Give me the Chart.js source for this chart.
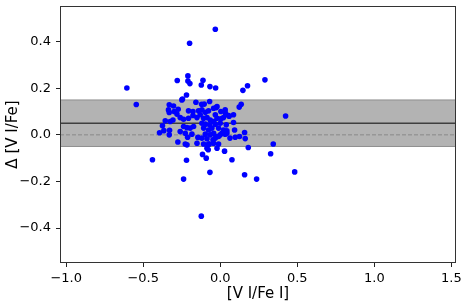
<!DOCTYPE html>
<html>
<head>
<meta charset="utf-8">
<script src="https://cdn.jsdelivr.net/npm/chart.js@4/dist/chart.umd.min.js"></script>
<style>
  html, body { margin: 0; padding: 0; background: #fff; }
</style>
</head>
<body>
<canvas id="myChart" width="464" height="303"></canvas>
<script>
// [V I/Fe I] for each star
const feI = [
  -0.032, -0.199, -0.606, -0.545, -0.279, -0.210, -0.210, -0.197, -0.112, -0.123,
  -0.067, -0.030, 0.177, 0.147, 0.290, 0.424, -0.219, -0.249, 0.136, 0.123,
  -0.440, -0.219, -0.115, -0.091, -0.078, 0.028, 0.076, -0.067, -0.238, 0.158,
  0.236, 0.327, 0.344, 0.483, -0.123, 0.182, -0.275, -0.227, -0.108, -0.071,
  -0.011, 0.158, 0.162, 0.063, 0.097, -0.394, -0.375, -0.366, -0.329,
  -0.245, -0.158, -0.331, -0.303, -0.336, -0.299, -0.206, -0.177, -0.141, -0.119,
  -0.281, -0.260, -0.307, -0.325, -0.238, -0.206, -0.177, -0.151, -0.130, -0.357,
  -0.238, -0.216, -0.195, -0.173, -0.260, -0.227, -0.184, -0.331, -0.145, -0.216,
  -0.069, -0.026, -0.043, -0.104, -0.097, -0.076, 0.004, 0.032, 0.054, 0.086,
  -0.032, -0.021, 0.004, 0.021, -0.108, -0.086, -0.065, -0.043, -0.119, -0.097,
  -0.069, -0.032, 0.000, 0.039, 0.086, 0.093, -0.108, -0.076, -0.054, -0.011,
  0.021, 0.043, -0.097, -0.065, -0.043, -0.021, 0.000, 0.032, -0.119, -0.086,
  -0.047, 0.125, -0.076, -0.043, -0.086, -0.021,
  -0.121, -0.021, 0.034, 0.058, -0.273, -0.331, -0.212, -0.151, -0.032, -0.011,
  0.011, 0.043
];
// Delta [V I/Fe]
const dVI = [
  0.453, 0.393, 0.201, 0.130, 0.233, 0.253, 0.231, 0.220, 0.234, 0.214,
  0.207, 0.201, 0.211, 0.191, 0.236, 0.081, 0.171, 0.150, 0.131, 0.119,
  -0.107, -0.109, -0.084, -0.100, -0.064, -0.070, -0.107, -0.161, -0.190, -0.171,
  -0.190, -0.081, -0.039, -0.159, -0.349, -0.054, -0.031, -0.039, -0.039, -0.039,
  -0.039, 0.010, -0.016, -0.014, -0.010, 0.009, 0.039, 0.018, 0.020,
  0.154, 0.140, 0.129, 0.124, 0.107, 0.100, 0.103, 0.100, 0.103, 0.107,
  0.089, 0.074, 0.064, 0.057, 0.067, 0.071, 0.083, 0.074, 0.086, 0.060,
  0.036, 0.031, 0.029, 0.036, 0.014, 0.007, 0.003, 0.000, -0.011, -0.043,
  0.143, 0.117, 0.114, 0.132, 0.097, 0.103, 0.100, 0.107, 0.083, 0.086,
  0.086, 0.071, 0.069, 0.074, 0.071, 0.074, 0.064, 0.057, 0.050, 0.046,
  0.043, 0.046, 0.050, 0.043, 0.053, 0.021, 0.029, 0.021, 0.029, 0.029,
  0.021, 0.017, 0.003, 0.000, 0.007, -0.007, 0.000, 0.003, -0.014, -0.017,
  -0.021, -0.007, -0.040, -0.036, -0.057, -0.057,
  0.131, 0.121, 0.093, 0.080, 0.110, 0.096, -0.010, -0.036, -0.014, -0.007,
  0.007, 0.007
];

const xTicks = [-1.0, -0.5, 0.0, 0.5, 1.0, 1.5];
const yTicks = [-0.4, -0.2, 0.0, 0.2, 0.4];
const xRange = [-1.04, 1.53];
const yRange = [-0.55, 0.553];

const bandLow = -0.05;
const bandHigh = 0.15;
const meanDiff = 0.05;
const zeroDiff = 0.0;

const ctx = document.getElementById("myChart");

function hline(y) {
  return [{ x: xRange[0], y: y }, { x: xRange[1], y: y }];
}

function fmt(v) {
  return v.toFixed(1).replace("-", "\u2212");
}

// full box round the plot, like matplotlib spines
const frame = {
  id: "frame",
  afterDatasetsDraw(chart) {
    const c = chart.ctx;
    const a = chart.chartArea;
    c.save();
    c.strokeStyle = "#333";
    c.lineWidth = 1;
    c.strokeRect(a.left + 0.5, a.top + 0.5, a.right - a.left - 1, a.bottom - a.top - 1);
    c.restore();
  },
};

const font = { family: "'DejaVu Sans'", size: 13 };
const titleFont = { family: "'DejaVu Sans'", size: 15 };

new Chart(ctx, {
  type: "scatter",
  data: {
    datasets: [
      {
        label: "stars",
        data: feI.map((x, i) => ({ x: x, y: dVI[i] })),
        backgroundColor: "#0000ff",
        borderWidth: 0,
        pointRadius: 2.8,
        order: 0,
      },
      {
        label: "mean",
        type: "line",
        data: hline(meanDiff),
        borderColor: "#3f3f3f",
        borderWidth: 1.6,
        pointRadius: 0,
        order: 1,
      },
      {
        label: "zero",
        type: "line",
        data: hline(zeroDiff),
        borderColor: "#8a8a8a",
        borderWidth: 1,
        borderDash: [4, 2],
        pointRadius: 0,
        order: 1,
      },
      {
        label: "band top",
        type: "line",
        data: hline(bandHigh),
        borderColor: "rgba(128,128,128,0.8)",
        borderWidth: 1,
        backgroundColor: "rgba(128,128,128,0.6)",
        fill: "+1",
        pointRadius: 0,
        order: 2,
      },
      {
        label: "band bottom",
        type: "line",
        data: hline(bandLow),
        borderColor: "rgba(128,128,128,0.8)",
        borderWidth: 1,
        pointRadius: 0,
        fill: false,
        order: 2,
      },
    ],
  },
  options: {
    responsive: false,
    devicePixelRatio: 1,
    animation: false,
    events: [],
    layout: { padding: { top: 6, right: 8, left: 0, bottom: 0 } },
    plugins: {
      legend: { display: false },
      tooltip: { enabled: false },
    },
    scales: {
      x: {
        type: "linear",
        min: xRange[0],
        max: xRange[1],
        afterBuildTicks: (s) => { s.ticks = xTicks.map((v) => ({ value: v })); },
        afterFit: (s) => { s.height = 40; s.paddingLeft = 0; s.paddingRight = 0; },
        border: { display: false },
        grid: { drawOnChartArea: false, drawTicks: true, tickLength: 4, color: "#222" },
        ticks: { color: "#000", font: font, padding: 4, maxRotation: 0, callback: (v) => fmt(v) },
        title: { display: true, text: "[V I/Fe I]", color: "#000", font: titleFont, padding: { top: 0, bottom: 0 } },
      },
      y: {
        type: "linear",
        min: yRange[0],
        max: yRange[1],
        afterBuildTicks: (s) => { s.ticks = yTicks.map((v) => ({ value: v })); },
        afterFit: (s) => { s.width = 60; s.paddingTop = 0; s.paddingBottom = 0; },
        border: { display: false },
        grid: { drawOnChartArea: false, drawTicks: true, tickLength: 4, color: "#222" },
        ticks: { color: "#000", font: font, padding: 5, callback: (v) => fmt(v) },
        title: { display: true, text: "\u0394 [V I/Fe]", color: "#000", font: titleFont, padding: { top: 4, bottom: 0 } },
      },
    },
  },
  plugins: [frame],
});
</script>
</body>
</html>
